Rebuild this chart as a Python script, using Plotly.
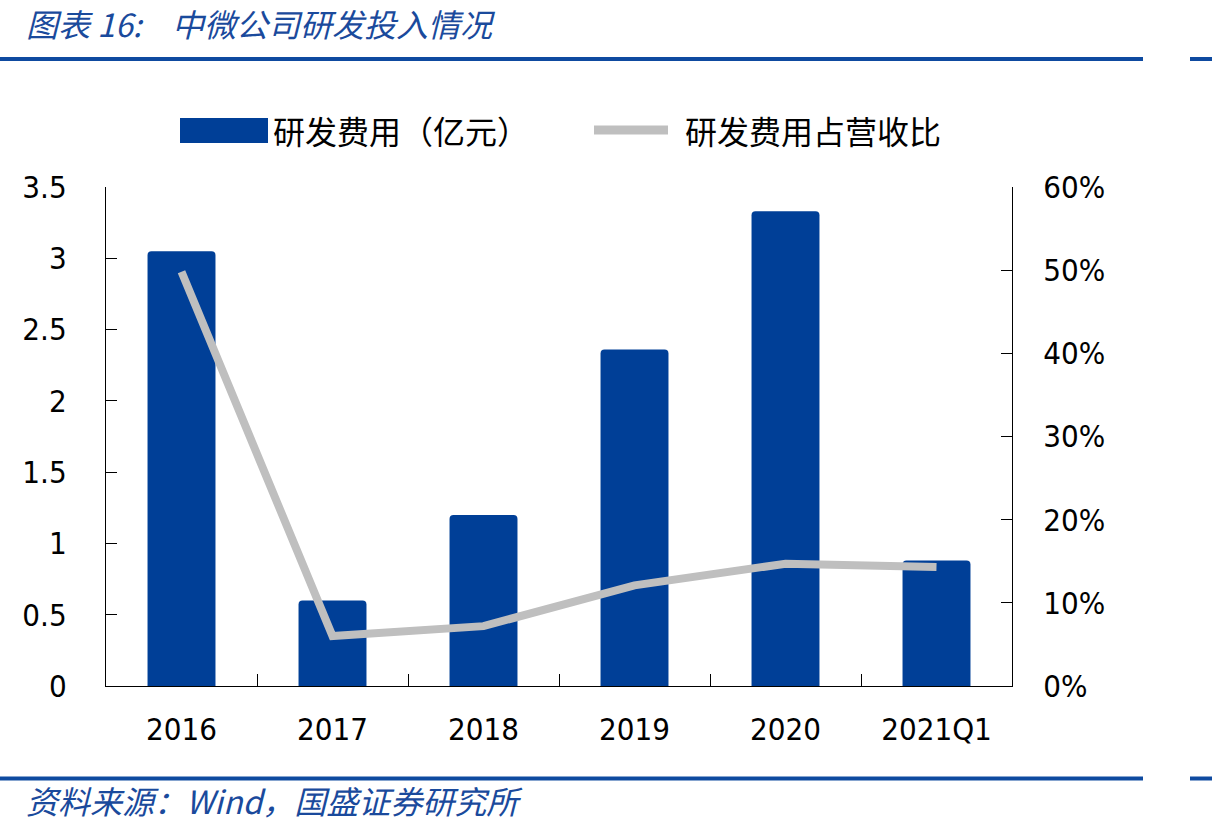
import plotly.graph_objects as go

categories = ["2016", "2017", "2018", "2019", "2020", "2021Q1"]
rd_expense = [3.05, 0.60, 1.20, 2.36, 3.33, 0.88]          # 亿元
rd_ratio = [0.498, 0.060, 0.072, 0.121, 0.147, 0.143]       # 占营收比
left_ticks = [0, 0.5, 1, 1.5, 2, 2.5, 3, 3.5]
left_tick_text = ["0", "0.5", "1", "1.5", "2", "2.5", "3", "3.5"]
right_ticks = [0, 0.1, 0.2, 0.3, 0.4, 0.5, 0.6]
right_tick_text = ["0%", "10%", "20%", "30%", "40%", "50%", "60%"]

W, H = 1212, 831
L, R, T, B = 106, 1012, 187, 686
PW, PH = R - L, B - T

def px(x):
    return (x - L) / PW

def py(y):
    return (B - y) / PH

BAR_BLUE = "#003F97"
RULE_BLUE = "#0E4AA0"
TITLE_BLUE = "#1A4A9C"
GRAY = "#BFBFBF"
NUM_FONT = "DejaVu Sans Condensed, DejaVu Sans, sans-serif"
CJK_FONT = "Noto Sans CJK SC, sans-serif"

fig = go.Figure()
fig.add_trace(go.Bar(
    x=categories, y=rd_expense, name="研发费用（亿元）",
    marker=dict(color=BAR_BLUE, cornerradius=4, line=dict(width=0)),
    width=0.45, yaxis="y", showlegend=False,
))
fig.add_trace(go.Scatter(
    x=categories, y=rd_ratio, name="研发费用占营收比", mode="lines",
    line=dict(color=GRAY, width=8), yaxis="y2", showlegend=False,
))

axis_common = dict(showgrid=False, zeroline=False, showline=True,
                   linecolor="black", linewidth=1.3, ticks="inside",
                   tickcolor="black", tickwidth=1.3,
                   tickfont=dict(family=NUM_FONT, size=31, color="black"))

fig.update_layout(
    width=W, height=H,
    margin=dict(l=L, r=W - R, t=T, b=H - B, pad=0),
    paper_bgcolor="white", plot_bgcolor="white",
    bargap=0.55,
    xaxis=dict(**axis_common, ticklen=12, tickson="boundaries",
               ticklabelstandoff=16, range=[-0.5, 5.5]),
    yaxis=dict(**axis_common, ticklen=11, range=[0, 3.5],
               tickvals=left_ticks, ticktext=left_tick_text,
               ticklabelstandoff=32),
    yaxis2=dict(**axis_common, ticklen=11, range=[0, 0.6], overlaying="y",
                side="right", tickvals=right_ticks, ticktext=right_tick_text,
                ticklabelstandoff=24),
)

shapes = []
# rules top and bottom
for yy in (59, 778.5):
    shapes.append(dict(type="line", xref="paper", yref="paper",
                       x0=px(0), x1=px(1143), y0=py(yy), y1=py(yy),
                       line=dict(color=RULE_BLUE, width=4)))
    shapes.append(dict(type="line", xref="paper", yref="paper",
                       x0=px(1190), x1=px(1212), y0=py(yy), y1=py(yy),
                       line=dict(color=RULE_BLUE, width=4)))
# legend symbols
shapes.append(dict(type="rect", xref="paper", yref="paper",
                   x0=px(180), x1=px(268), y0=py(143), y1=py(118),
                   fillcolor=BAR_BLUE, line=dict(width=0)))
shapes.append(dict(type="line", xref="paper", yref="paper",
                   x0=px(594), x1=px(668), y0=py(130), y1=py(130),
                   line=dict(color=GRAY, width=9)))
fig.update_layout(shapes=shapes)

annotations = [
    dict(text="<i>图表 16:</i>", x=px(24), y=py(23),
         xanchor="left", yanchor="middle",
         font=dict(family=CJK_FONT, size=32, color=TITLE_BLUE)),
    dict(text="<i>中微公司研发投入情况</i>", x=px(170), y=py(23),
         xanchor="left", yanchor="middle",
         font=dict(family=CJK_FONT, size=32, color=TITLE_BLUE)),
    dict(text="<i>资料来源：Wind，国盛证券研究所</i>", x=px(24), y=py(800),
         xanchor="left", yanchor="middle",
         font=dict(family=CJK_FONT, size=32, color=TITLE_BLUE)),
    dict(text="研发费用（亿元）", x=px(271), y=py(130),
         xanchor="left", yanchor="middle",
         font=dict(family=CJK_FONT, size=32, color="black")),
    dict(text="研发费用占营收比", x=px(683), y=py(130),
         xanchor="left", yanchor="middle",
         font=dict(family=CJK_FONT, size=32, color="black")),
]
for a in annotations:
    a.update(xref="paper", yref="paper", showarrow=False)
fig.update_layout(annotations=annotations)

fig.write_html("out.html")
